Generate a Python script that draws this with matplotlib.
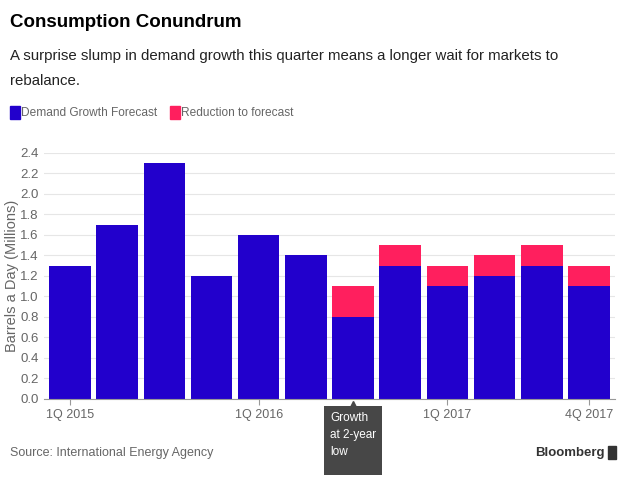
import matplotlib
matplotlib.use("Agg")
import matplotlib.pyplot as plt
import matplotlib.transforms as mtransforms
import numpy as np

plt.rcParams['font.family'] = ['Liberation Sans', 'DejaVu Sans']

quarters = ['1Q 2015', '2Q 2015', '3Q 2015', '4Q 2015',
            '1Q 2016', '2Q 2016', '3Q 2016', '4Q 2016',
            '1Q 2017', '2Q 2017', '3Q 2017', '4Q 2017']
demand_growth = [1.3, 1.7, 2.3, 1.2, 1.6, 1.4, 0.8, 1.3, 1.1, 1.2, 1.3, 1.1]
reduction = [0, 0, 0, 0, 0, 0, 0.3, 0.2, 0.2, 0.2, 0.2, 0.2]
shown_ticks = ['1Q 2015', '1Q 2016', '1Q 2017', '4Q 2017']
yticks = [0.0, 0.2, 0.4, 0.6, 0.8, 1.0, 1.2, 1.4, 1.6, 1.8, 2.0, 2.2, 2.4]

blue = '#2200cc'
pink = '#ff1f5e'
grey = '#666666'
box_grey = '#474747'

fig = plt.figure(figsize=(6.3, 4.9), dpi=100)
ax = fig.add_axes([0.070, 0.186, 0.906, 0.502])

x = np.arange(len(quarters))
ax.bar(x, demand_growth, width=0.88, color=blue, zorder=2)
ax.bar(x, reduction, bottom=demand_growth, width=0.88, color=pink, zorder=2)

ax.set_xlim(-0.55, len(quarters) - 0.45)
ax.set_ylim(0, 2.4)
ax.set_yticks(yticks)
ax.set_yticklabels([f'{v:.1f}' for v in yticks], color=grey, fontsize=9.5)
ax.tick_params(axis='y', length=0, pad=4)
ax.grid(axis='y', color='#e6e6e6', linewidth=0.8, zorder=0)

tick_pos = [quarters.index(q) for q in shown_ticks]
ax.set_xticks(tick_pos)
ax.set_xticklabels(shown_ticks, color=grey, fontsize=9)
ax.tick_params(axis='x', length=4, color='#999999', pad=3)

for side in ['top', 'right', 'left']:
    ax.spines[side].set_visible(False)
ax.spines['bottom'].set_color('#999999')

ax.set_ylabel('Barrels a Day (Millions)', color=grey, fontsize=10.5, labelpad=1)

# note under the slump quarter
low_idx = int(np.argmin(demand_growth))
blend = mtransforms.blended_transform_factory(ax.transData, fig.transFigure)
ax.add_patch(plt.Rectangle((low_idx - 0.61, 0.031), 1.22, 0.140, transform=blend,
                           facecolor=box_grey, edgecolor='none', clip_on=False))
ax.plot([low_idx], [0.175], marker='^', markersize=5, color=box_grey,
        transform=blend, clip_on=False)
ax.text(low_idx - 0.48, 0.160, 'Growth\nat 2-year\nlow', transform=blend,
        ha='left', va='top', color='white', fontsize=8.5, linespacing=1.6)

fig.text(0.016, 0.955, 'Consumption Conundrum', fontsize=13.5, fontweight='bold', va='center')
fig.text(0.016, 0.885, 'A surprise slump in demand growth this quarter means a longer wait for markets to',
         fontsize=10.8, va='center', color='#222222')
fig.text(0.016, 0.835, 'rebalance.', fontsize=10.8, va='center', color='#222222')

# legend
fig.patches.append(plt.Rectangle((0.016, 0.757), 0.016, 0.027, transform=fig.transFigure, color=blue))
fig.text(0.034, 0.770, 'Demand Growth Forecast', fontsize=8.6, va='center', color=grey)
fig.patches.append(plt.Rectangle((0.270, 0.757), 0.016, 0.027, transform=fig.transFigure, color=pink))
fig.text(0.288, 0.770, 'Reduction to forecast', fontsize=8.6, va='center', color=grey)

fig.text(0.016, 0.076, 'Source: International Energy Agency', fontsize=9, va='center', color=grey)
fig.text(0.959, 0.076, 'Bloomberg', fontsize=9.5, fontweight='bold', va='center', ha='right', color='#333333')
fig.patches.append(plt.Rectangle((0.965, 0.064), 0.013, 0.026, transform=fig.transFigure, color='#333333'))

fig.savefig('out.png', dpi=100, facecolor='white')
